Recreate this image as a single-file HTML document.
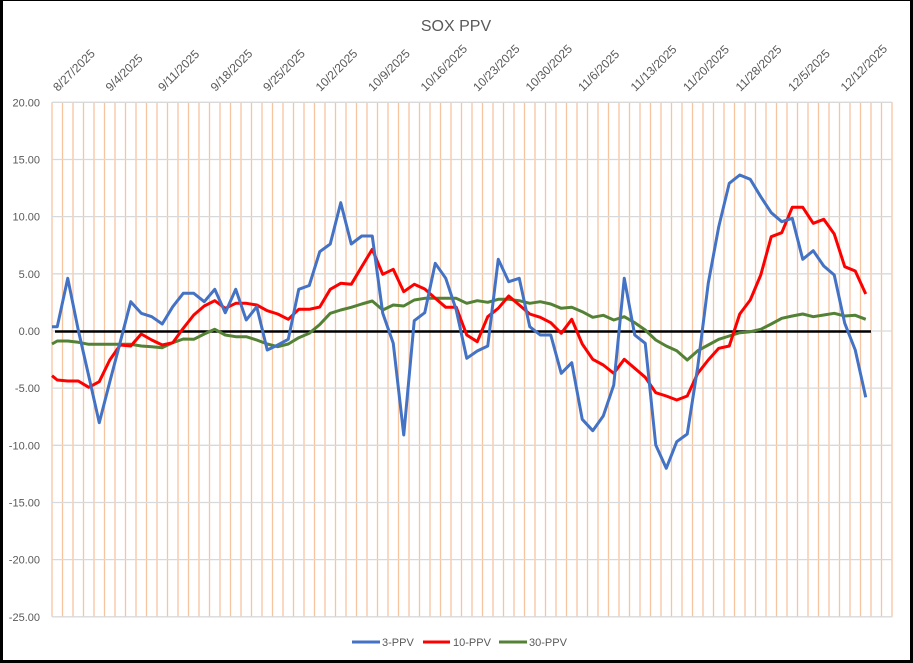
<!DOCTYPE html>
<html><head><meta charset="utf-8"><style>
html,body{margin:0;padding:0;background:#fff;}
#c{width:913px;height:663px;box-sizing:border-box;border-left:3px solid #000;border-right:3px solid #000;border-top:1px solid #000;border-bottom:3px solid #000;position:relative;overflow:hidden;}
svg{position:absolute;left:-3px;top:-1px;}
text{font-family:"Liberation Sans",sans-serif;fill:#595959;}
</style></head><body><div id="c">
<svg width="913" height="663" viewBox="0 0 913 663" xmlns="http://www.w3.org/2000/svg">
<g id="vg" stroke="#f7c4a0" stroke-width="1.3"></g>
<g id="hg" stroke="#d9d9d9" stroke-width="1.3"></g>
<g id="yl" font-size="11" text-anchor="end"></g>
<g id="xl" font-size="12"></g>
<text x="456" y="31" font-size="16" text-anchor="middle">SOX PPV</text>
<line x1="55" y1="331.5" x2="871" y2="331.5" stroke="#000" stroke-width="2.5"/>
<g fill="none" stroke-width="3" stroke-linejoin="round">
<polyline id="g" stroke="#538135"/>
<polyline id="r" stroke="#ff0000"/>
<polyline id="b" stroke="#4472c4"/>
</g>
<g font-size="11">
<line x1="352" y1="642" x2="380" y2="642" stroke="#4472c4" stroke-width="3"/><text x="382" y="646">3-PPV</text>
<line x1="423" y1="642" x2="450" y2="642" stroke="#ff0000" stroke-width="3"/><text x="453" y="646">10-PPV</text>
<line x1="499" y1="642" x2="527" y2="642" stroke="#538135" stroke-width="3"/><text x="529" y="646">30-PPV</text>
</g>
</svg></div>
<script>
var NS="http://www.w3.org/2000/svg";
function el(p,t,a,txt){var e=document.createElementNS(NS,t);for(var k in a)e.setAttribute(k,a[k]);if(txt)e.textContent=txt;document.getElementById(p).appendChild(e);}
for(var k=0;k<=80;k++){var x=52+10.5*k;el("vg","line",{x1:x,y1:102.3,x2:x,y2:616.8});}
var labs=["20.00","15.00","10.00","5.00","0.00","-5.00","-10.00","-15.00","-20.00","-25.00"];
for(var i=0;i<10;i++){var y=102.3+57.17*i;el("hg","line",{x1:52,y1:y,x2:892.3,y2:y});el("yl","text",{x:40,y:y+4},labs[i]);}
var d=["8/27/2025","9/4/2025","9/11/2025","9/18/2025","9/25/2025","10/2/2025","10/9/2025","10/16/2025","10/23/2025","10/30/2025","11/6/2025","11/13/2025","11/20/2025","11/28/2025","12/5/2025","12/12/2025"];
for(var i=0;i<d.length;i++){var x=58+52.5*i,y=92;el("xl","text",{x:x,y:y,transform:"rotate(-45 "+x+" "+y+")"},d[i]);}
var B=[326.7,278.3,330,376,422.7,382,342,301.7,313.3,316.7,324,306.7,293.3,293.3,301.7,289.3,312.7,289.3,320,306.7,350,345,339.3,289.3,285.5,251.7,244,202.7,244,236,236,313.3,343.3,435,320.7,312.7,263.3,278.3,310,358.3,351,346,259.3,281.7,278.3,326.7,335,335,373.3,362.7,419.3,430.7,416,385,278.3,335,343.3,445,468.3,441.7,434,366.7,283.3,226.7,183.3,175,179.3,196.7,212.7,221.7,218.3,259.3,250.7,266,275,323.3,350,397.3];
var R=[380,381,381,387.3,381.7,360,345,346,334,340,345,342.7,328.3,315,306,300.7,308.3,303.3,303.3,305,310.7,314,319.3,309.3,309.3,307,289.3,283.3,284.3,266.7,249.3,274.3,269.3,291.7,284.3,289,298.3,307.3,307.3,335,341.7,316.7,308.3,296,305,314,317.3,322.7,333.3,319.3,344,359.3,365,373.3,359.3,368.3,377.3,392.7,396,400,396,373.3,360,348.3,346,314,300,275,236.7,232.7,207.3,207.3,223.3,219.3,234,266.7,271,294];
var G=[341,341,342.3,344.3,344.3,344.3,344.3,344.3,346,346.7,347.7,342.7,339,339.3,334,329.3,335,336.7,336.7,340,344,346.7,344,337.7,333.3,324.5,313.3,310,307.3,304,301,310,305,306,300,298.3,298.3,298.3,298.3,303.3,300.7,302.3,299.3,299.3,300.7,303.3,301.7,304,308.3,307.3,311.7,317.3,315.3,320,316.7,322.7,330,340,346,350.7,360,350.7,345,339.3,336,332.7,331.7,329.3,324,318.3,316,314,316.7,315,313.3,316,315.3,319.3];
function pts(a){var s="52,"+a[0];for(var i=0;i<a.length;i++)s+=" "+(57.25+10.5*i).toFixed(2)+","+a[i];return s;}
document.getElementById("b").setAttribute("points",pts(B));
document.getElementById("r").setAttribute("points",pts(R).replace(/^52,380/,"52,375.7"));
document.getElementById("g").setAttribute("points",pts(G).replace(/^52,341/,"52,344"));
</script>
</body></html>
